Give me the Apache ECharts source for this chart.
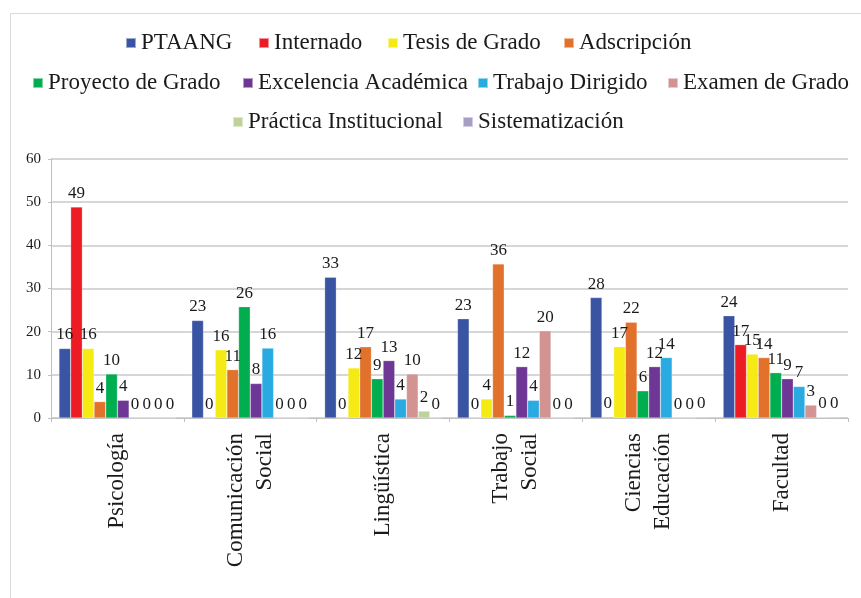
<!DOCTYPE html>
<html>
<head>
<meta charset="utf-8">
<script src="https://cdn.jsdelivr.net/npm/echarts@6/dist/echarts.min.js"></script>
<style>html,body{margin:0;padding:0;background:#fff;}#c{width:861px;height:598px;}</style>
</head>
<body>
<div id="c"></div>
<script>
const categories = ['Psicología', 'Comunicación\nSocial', 'Lingüística', 'Trabajo\nSocial', 'Ciencias\nEducación', 'Facultad'];
const seriesNames = ['PTAANG', 'Internado', 'Tesis de Grado', 'Adscripción', 'Proyecto de Grado', 'Excelencia Académica', 'Trabajo Dirigido', 'Examen de Grado', 'Práctica Institucional', 'Sistematización'];
const ptaang = [16.1, 22.6, 32.6, 23.0, 27.9, 23.7];
const internado = [48.9, 0, 0, 0, 0.2, 17.0];
const tesis = [16.1, 15.8, 11.6, 4.4, 16.5, 14.8];
const adscripcion = [3.8, 11.2, 16.5, 35.7, 22.2, 14.0];
const proyecto = [10.2, 25.8, 9.1, 0.6, 6.3, 10.5];
const excelencia = [4.1, 8.0, 13.3, 11.9, 11.9, 9.1];
const trabajoDirigido = [0, 16.2, 4.4, 4.1, 14.0, 7.3];
const examen = [0, 0, 10.2, 20.2, 0, 3.0];
const practica = [0, 0, 1.6, 0, 0, 0.2];
const sistematizacion = [0, 0, 0, 0, 0.2, 0.2];
const yMin = 0, yMax = 60, yStep = 10;

const allData = [ptaang, internado, tesis, adscripcion, proyecto, excelencia, trabajoDirigido, examen, practica, sistematizacion];
const colors = ['#3A54A4', '#ED1C24', '#F5EA14', '#E2712B', '#00AE50', '#6F3795', '#29ABE2', '#D39393', '#BED39B', '#A89DC4'];
const FONT = "'Liberation Serif', 'DejaVu Serif', serif";

// legend item placement (x of the colour square, row top)
const legendLeft = [125, 258, 387, 563, 32, 242, 477, 667, 232, 462];
const legendTop = [31, 31, 31, 31, 71, 71, 71, 71, 110, 110];

const chart = echarts.init(document.getElementById('c'));
chart.setOption({
  animation: false,
  color: colors,
  graphic: [{
    type: 'rect', left: 8, top: 11, shape: { width: 900, height: 700 },
    style: { fill: 'none', stroke: '#d9d9d9', lineWidth: 1 }, silent: true
  }],
  legend: seriesNames.map((n, i) => ({
    data: [n], left: legendLeft[i], top: legendTop[i], padding: 0,
    itemWidth: 10, itemHeight: 10, icon: 'rect',
    textStyle: { fontFamily: FONT, fontSize: 23, color: '#1a1a1a', lineHeight: 24 }
  })),
  grid: { left: 51, right: 13, top: 159, bottom: 180 },
  xAxis: {
    type: 'category', data: categories,
    axisLine: { lineStyle: { color: '#bfbfbf' } },
    axisTick: { show: true, length: 4, lineStyle: { color: '#bfbfbf' } },
    axisLabel: { rotate: 90, margin: 15, fontFamily: FONT, fontSize: 23, lineHeight: 29, color: '#1a1a1a', interval: 0 }
  },
  yAxis: {
    type: 'value', min: yMin, max: yMax, interval: yStep,
    axisLine: { show: true, lineStyle: { color: '#bfbfbf' } },
    axisTick: { show: true, length: 3, lineStyle: { color: '#bfbfbf' } },
    splitLine: { lineStyle: { color: '#c8c8c8', width: 1.5 } },
    axisLabel: { fontFamily: FONT, fontSize: 15, color: '#1a1a1a', margin: 10 }
  },
  series: seriesNames.map((n, i) => ({
    name: n, type: 'bar', data: allData[i],
    barGap: '0%', barCategoryGap: '12%',
    itemStyle: { borderColor: 'rgba(255,255,255,0.5)', borderWidth: 0.5 },
    label: {
      show: true, position: 'top', distance: 5,
      fontFamily: FONT, fontSize: 17, color: '#1a1a1a',
      formatter: p => Math.round(p.value)
    }
  }))
});
</script>
</body>
</html>
